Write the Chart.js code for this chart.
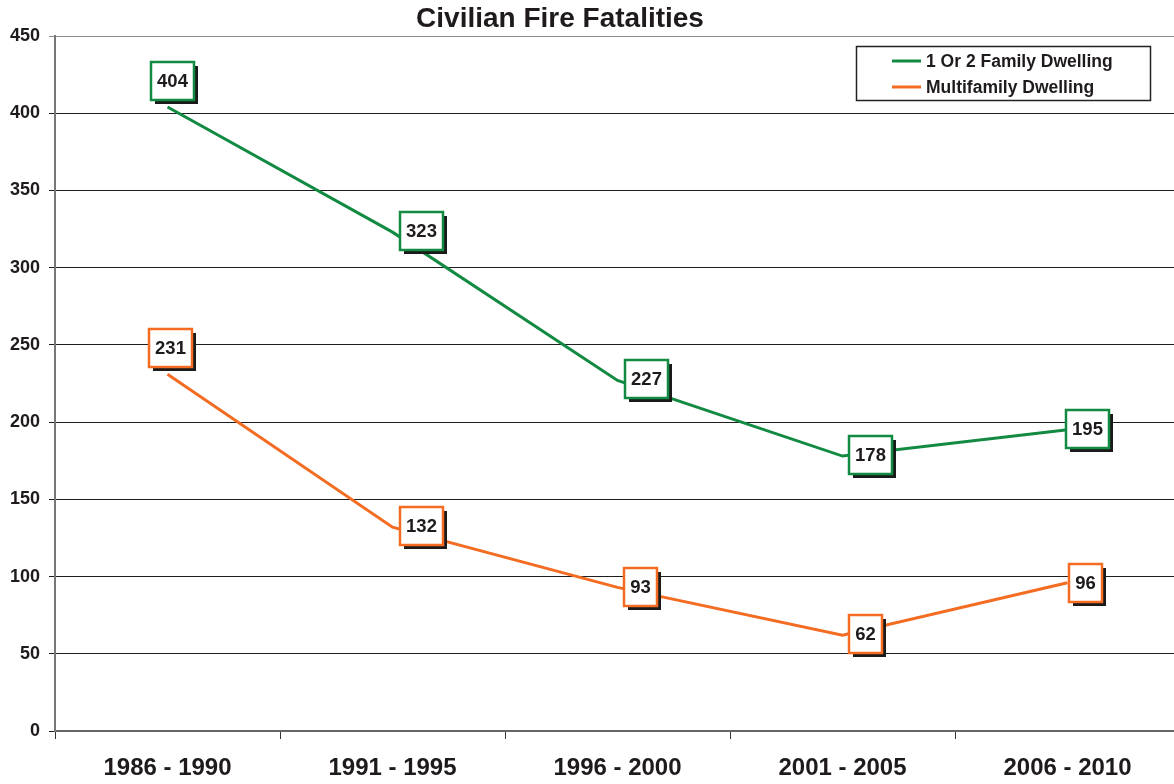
<!DOCTYPE html>
<html>
<head>
<meta charset="utf-8">
<title>Civilian Fire Fatalities</title>
<script src="https://cdn.jsdelivr.net/npm/chart.js@4"></script>
<style>
  html, body { margin: 0; padding: 0; background: #fff; overflow: hidden; }
  #caixa { width: 1174px; height: 784px; overflow: hidden; }
</style>
</head>
<body>
<div id="caixa"><canvas id="grafico" width="1180" height="784"></canvas></div>
<script>
// dados
const periodos = ["1986 - 1990", "1991 - 1995", "1996 - 2000", "2001 - 2005", "2006 - 2010"];
const umOuDoisFamilia = [404, 323, 227, 178, 195];
const multifamiliar = [231, 132, 93, 62, 96];
const nomesSeries = ["1 Or 2 Family Dwelling", "Multifamily Dwelling"];
const tituloTexto = "Civilian Fire Fatalities";
const eixoY = { min: 0, max: 450, passo: 50 };

const FONTE = '"Liberation Sans", Arial, sans-serif';
const VERDE = "#138a42";
const LARANJA = "#f36c22";
const TEXTO = "#1f1b1c";

// deslocamento do centro de cada caixa de rótulo em relação ao ponto
const deslocRotulos = [
  [[5, -26], [29, -1], [29, -1], [28, -1], [20, -1]],
  [[3, -26], [29, -1], [23, 0], [23, -1], [18, 0]],
];

const pluginTitulo = {
  id: "titulo",
  afterDraw(chart) {
    const c = chart.ctx;
    c.save();
    c.font = "bold 28px " + FONTE;
    c.fillStyle = TEXTO;
    c.textAlign = "center";
    c.textBaseline = "middle";
    c.fillText(tituloTexto, 560, 19);
    c.restore();
  },
};

const pluginLegenda = {
  id: "legendaCaixa",
  afterDraw(chart) {
    const c = chart.ctx;
    c.save();
    c.fillStyle = "#fff";
    c.fillRect(856, 46, 294, 55);
    c.strokeStyle = "#222";
    c.lineWidth = 1.5;
    c.strokeRect(856.5, 46.5, 294, 54);
    c.font = "bold 17.5px " + FONTE;
    c.textBaseline = "middle";
    c.textAlign = "left";
    chart.data.datasets.forEach((ds, i) => {
      const y = 61 + i * 26;
      c.strokeStyle = ds.borderColor;
      c.lineWidth = 3;
      c.beginPath();
      c.moveTo(892, y);
      c.lineTo(921, y);
      c.stroke();
      c.fillStyle = TEXTO;
      c.fillText(ds.label, 926, y + 1);
    });
    c.restore();
  },
};

const pluginRotulos = {
  id: "rotulos",
  afterDatasetsDraw(chart) {
    const c = chart.ctx;
    c.save();
    c.font = "bold 18.5px " + FONTE;
    c.textAlign = "center";
    c.textBaseline = "middle";
    chart.data.datasets.forEach((ds, i) => {
      const meta = chart.getDatasetMeta(i);
      meta.data.forEach((pt, j) => {
        const txt = String(ds.data[j]);
        const [dx, dy] = deslocRotulos[i][j];
        const w = Math.round(c.measureText(txt).width) + 12;
        const h = 38;
        const cx = pt.x + dx, cy = pt.y + dy;
        const x0 = Math.round(cx - w / 2), y0 = Math.round(cy - h / 2);
        // sombra
        c.fillStyle = "#1a1a1a";
        c.fillRect(x0 + 4, y0 + 4, w, h);
        c.fillStyle = "#fff";
        c.fillRect(x0, y0, w, h);
        c.strokeStyle = ds.borderColor;
        c.lineWidth = 2.5;
        c.strokeRect(x0, y0, w, h);
        c.fillStyle = TEXTO;
        c.fillText(txt, x0 + w / 2, y0 + h / 2 + 1);
      });
    });
    c.restore();
  },
};

new Chart(document.getElementById("grafico"), {
  type: "line",
  data: {
    labels: periodos,
    datasets: [
      { label: nomesSeries[0], data: umOuDoisFamilia, borderColor: VERDE, backgroundColor: VERDE, borderWidth: 3, pointRadius: 0, tension: 0, fill: false },
      { label: nomesSeries[1], data: multifamiliar, borderColor: LARANJA, backgroundColor: LARANJA, borderWidth: 3, pointRadius: 0, tension: 0, fill: false },
    ],
  },
  options: {
    responsive: false,
    animation: false,
    layout: { padding: { top: 36, left: 0, right: 0, bottom: 0 } },
    plugins: {
      legend: { display: false },
      title: { display: false },
      tooltip: { enabled: false },
    },
    scales: {
      x: {
        offset: true,
        grid: { offset: true, drawOnChartArea: false, drawTicks: true, tickLength: 8, color: "#333", lineWidth: 1 },
        border: { color: "#666", width: 2 },
        ticks: { color: TEXTO, font: { family: FONTE, size: 24, weight: "bold" }, padding: 15, maxRotation: 0, autoSkip: false },
        afterFit(s) { s.height = 53; },
      },
      y: {
        min: eixoY.min,
        max: eixoY.max,
        ticks: { stepSize: eixoY.passo, color: TEXTO, padding: 9, font: { family: FONTE, size: 18, weight: "bold" } },
        grid: {
          color: (ctx) => (ctx.tick && ctx.tick.value === eixoY.max ? "#8c8c8c" : "#1e1e1e"),
          lineWidth: 1,
          tickLength: 6,
        },
        border: { color: "#777", width: 2 },
        afterFit(s) { s.width = 55; },
      },
    },
  },
  plugins: [pluginTitulo, pluginLegenda, pluginRotulos],
});
</script>
</body>
</html>
